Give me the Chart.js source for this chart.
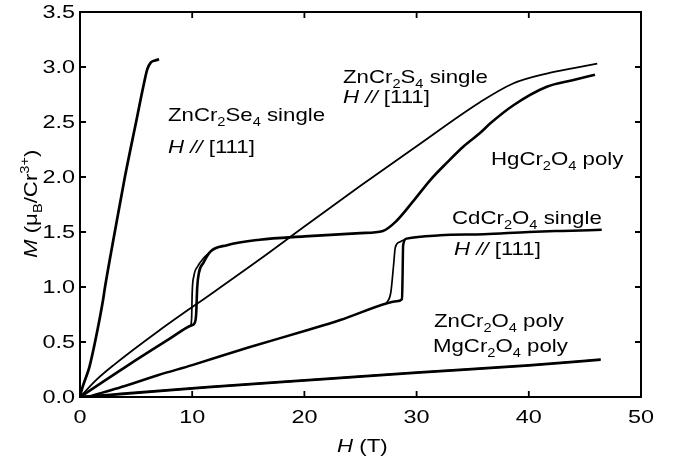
<!DOCTYPE html>
<html>
<head>
<meta charset="utf-8">
<script src="https://cdn.jsdelivr.net/npm/chart.js@4.4.0/dist/chart.umd.min.js"></script>
<style>
  html, body { margin: 0; padding: 0; background: #fff; }
  #wrap { width: 673px; height: 464px; }
</style>
</head>
<body>
<div id="wrap"><canvas id="chart" width="673" height="464"></canvas></div>
<script>
// Magnetization curves M(H) of Cr spinels

const xTicks = [0, 10, 20, 30, 40, 50];
const xTickLabels = ['0', '10', '20', '30', '40', '50'];
const yTicks = [0, 0.5, 1.0, 1.5, 2.0, 2.5, 3.0, 3.5];
const yTickLabels = ['0.0', '0.5', '1.0', '1.5', '2.0', '2.5', '3.0', '3.5'];

// ZnCr2Se4 single, H // [111]
const seH = [0, 0.2, 0.5, 0.83, 1.34, 2.05, 2.23, 3.1, 4.0, 5.0, 5.7, 6.0, 6.3, 6.7, 7.05];
const seM = [0, 0.08, 0.17, 0.27, 0.5, 0.88, 1.0, 1.5, 2.0, 2.5, 2.85, 2.98, 3.04, 3.06, 3.07];

// ZnCr2S4 single, H // [111]
const sH = [0, 1.5, 3, 7, 12, 16, 20, 25, 30, 35.65, 38.6, 41.6, 44, 46.1];
const sM = [0, 0.16, 0.29, 0.6, 0.96, 1.25, 1.55, 1.92, 2.28, 2.68, 2.85, 2.94, 2.99, 3.03];

// HgCr2O4 poly, up sweep and the down branch of the loop at 10 T
const hgUpH = [0, 4, 8, 9.9, 10.2, 10.35, 10.45, 10.6, 11, 11.6, 13.1, 16, 20, 25, 27, 28.2, 29.7, 31.2, 32.7, 34.2, 35.65, 36.6, 38.6, 41.6, 43.9, 45.9];
const hgUpM = [0, 0.27, 0.53, 0.65, 0.67, 0.75, 1.0, 1.13, 1.22, 1.32, 1.38, 1.43, 1.46, 1.49, 1.51, 1.6, 1.78, 1.97, 2.13, 2.28, 2.4, 2.49, 2.65, 2.82, 2.88, 2.93];
const hgDnH = [9.85, 9.95, 10.0, 10.15, 10.5, 11.0, 11.6];
const hgDnM = [0.64, 0.72, 0.95, 1.1, 1.19, 1.26, 1.32];

// CdCr2O4 single, H // [111], up sweep and down branch of the loop at 28 T
const cdUpH = [0, 1, 2, 4, 7, 10, 15, 20, 23.2, 27.3, 28.2, 28.7, 28.75, 28.8, 29.1, 32.1, 36, 40, 43, 46.5];
const cdUpM = [0, 0.01, 0.04, 0.1, 0.2, 0.29, 0.45, 0.6, 0.7, 0.85, 0.87, 0.89, 1.1, 1.38, 1.44, 1.47, 1.48, 1.5, 1.51, 1.52];
const cdDnH = [27.3, 27.7, 27.95, 28.1, 28.5, 29.1];
const cdDnM = [0.85, 0.95, 1.2, 1.36, 1.41, 1.44];

// ZnCr2O4 poly and MgCr2O4 poly
const znH = [0, 3, 11.4, 22.3, 30, 40, 46.4];
const znM = [0, 0.025, 0.092, 0.17, 0.225, 0.29, 0.343];
const mgH = [0, 3, 11.4, 22.3, 30, 40, 46.4];
const mgM = [0, 0.02, 0.087, 0.164, 0.219, 0.284, 0.337];

const FONT = '"Liberation Sans", Arial, Helvetica, sans-serif';

function pts(H, M) {
    return H.map((h, i) => ({ x: h, y: M[i] }));
}

function curve(label, H, M, width) {
    return {
        label: label,
        data: pts(H, M),
        borderColor: '#000',
        borderWidth: width,
        pointRadius: 0,
        fill: false,
        cubicInterpolationMode: 'monotone'
    };
}

// rich text: parts are [text, kind], kind n = normal, i = italic, b = subscript, p = superscript
function partFont(kind, size) {
    const s = (kind === 'b' || kind === 'p') ? size * 0.66 : size;
    return (kind === 'i' ? 'italic ' : '') + s.toFixed(1) + 'px ' + FONT;
}

function richWidth(ctx, parts, size) {
    let w = 0;
    parts.forEach(([t, k]) => {
        ctx.font = partFont(k, size);
        w += ctx.measureText(t).width;
    });
    return w;
}

function drawRich(ctx, parts, size, sx) {
    ctx.save();
    ctx.scale(sx, 1);
    let cx = 0;
    parts.forEach(([t, k]) => {
        ctx.font = partFont(k, size);
        const dy = k === 'b' ? size * 0.28 : (k === 'p' ? -size * 0.42 : 0);
        ctx.fillText(t, cx, dy);
        cx += ctx.measureText(t).width;
    });
    ctx.restore();
}

const dirText = [['H', 'i'], [' // ', 'i'], ['[111]', 'n']];

// annotation texts, anchored at baseline-left in data units
const notes = [
    { h: 7.84, m: 2.51, parts: [['ZnCr', 'n'], ['2', 'b'], ['Se', 'n'], ['4', 'b'], [' single', 'n']] },
    { h: 7.84, m: 2.215, parts: dirText },
    { h: 23.44, m: 2.855, parts: [['ZnCr', 'n'], ['2', 'b'], ['S', 'n'], ['4', 'b'], [' single', 'n']] },
    { h: 23.44, m: 2.673, parts: dirText },
    { h: 36.63, m: 2.11, parts: [['HgCr', 'n'], ['2', 'b'], ['O', 'n'], ['4', 'b'], [' poly', 'n']] },
    { h: 33.16, m: 1.573, parts: [['CdCr', 'n'], ['2', 'b'], ['O', 'n'], ['4', 'b'], [' single', 'n']] },
    { h: 33.33, m: 1.291, parts: dirText },
    { h: 31.55, m: 0.636, parts: [['ZnCr', 'n'], ['2', 'b'], ['O', 'n'], ['4', 'b'], [' poly', 'n']] },
    { h: 31.46, m: 0.409, parts: [['MgCr', 'n'], ['2', 'b'], ['O', 'n'], ['4', 'b'], [' poly', 'n']] }
];

const frame = {
    id: 'frame',
    afterDraw(chart) {
        const { ctx, chartArea: a, scales: { x, y } } = chart;
        ctx.save();
        ctx.fillStyle = '#000';
        ctx.strokeStyle = '#000';

        // box
        ctx.lineWidth = 2;
        ctx.strokeRect(a.left, a.top, a.right - a.left, a.bottom - a.top);

        // inward ticks on all sides
        ctx.lineWidth = 1.8;
        ctx.beginPath();
        xTicks.forEach(v => {
            const px = x.getPixelForValue(v);
            ctx.moveTo(px, a.bottom); ctx.lineTo(px, a.bottom - 6);
            ctx.moveTo(px, a.top); ctx.lineTo(px, a.top + 6);
        });
        yTicks.forEach(v => {
            const py = y.getPixelForValue(v);
            ctx.moveTo(a.left, py); ctx.lineTo(a.left + 6, py);
            ctx.moveTo(a.right, py); ctx.lineTo(a.right - 6, py);
        });
        ctx.stroke();

        // tick labels
        const tSize = 18, tSx = 1.3;
        ctx.textBaseline = 'alphabetic';
        xTicks.forEach((v, i) => {
            const parts = [[xTickLabels[i], 'n']];
            const w = richWidth(ctx, parts, tSize) * tSx;
            ctx.save();
            ctx.translate(x.getPixelForValue(v) - w / 2, a.bottom + 26);
            drawRich(ctx, parts, tSize, tSx);
            ctx.restore();
        });
        yTicks.forEach((v, i) => {
            const parts = [[yTickLabels[i], 'n']];
            const w = richWidth(ctx, parts, tSize) * tSx;
            ctx.save();
            ctx.translate(a.left - 5 - w, y.getPixelForValue(v) + 6.4);
            drawRich(ctx, parts, tSize, tSx);
            ctx.restore();
        });

        // axis titles
        const lSize = 19, lSx = 1.17;
        ctx.save();
        ctx.translate(337, 452);
        drawRich(ctx, [['H', 'i'], [' (T)', 'n']], lSize, lSx);
        ctx.restore();

        ctx.save();
        ctx.translate(37, 258);
        ctx.rotate(-Math.PI / 2);
        drawRich(ctx, [['M', 'i'], [' (\u03bc', 'n'], ['B', 'b'], ['/Cr', 'n'], ['3+', 'p'], [')', 'n']], lSize, lSx);
        ctx.restore();

        // curve annotations
        notes.forEach(n => {
            ctx.save();
            ctx.translate(x.getPixelForValue(n.h), y.getPixelForValue(n.m));
            drawRich(ctx, n.parts, lSize, lSx);
            ctx.restore();
        });

        ctx.restore();
    }
};

new Chart(document.getElementById('chart'), {
    type: 'line',
    data: {
        datasets: [
            curve('ZnCr2Se4 single', seH, seM, 2.7),
            curve('ZnCr2S4 single', sH, sM, 1.8),
            curve('HgCr2O4 poly', hgUpH, hgUpM, 2.6),
            curve('HgCr2O4 poly (down)', hgDnH, hgDnM, 1.7),
            curve('CdCr2O4 single', cdUpH, cdUpM, 2.5),
            curve('CdCr2O4 single (down)', cdDnH, cdDnM, 1.7),
            curve('ZnCr2O4 poly', znH, znM, 2.2),
            curve('MgCr2O4 poly', mgH, mgM, 2.2)
        ]
    },
    options: {
        responsive: false,
        animation: false,
        layout: { padding: { left: 0, right: 32, top: 12, bottom: 0 } },
        plugins: {
            legend: { display: false },
            tooltip: { enabled: false }
        },
        scales: {
            x: {
                type: 'linear',
                min: 0,
                max: 50,
                grid: { display: false },
                border: { display: false },
                ticks: { display: false, stepSize: 10 },
                afterFit: s => { s.height = 67; }
            },
            y: {
                type: 'linear',
                min: 0,
                max: 3.5,
                grid: { display: false },
                border: { display: false },
                ticks: { display: false, stepSize: 0.5 },
                afterFit: s => { s.width = 80; }
            }
        }
    },
    plugins: [frame]
});
</script>
</body>
</html>
